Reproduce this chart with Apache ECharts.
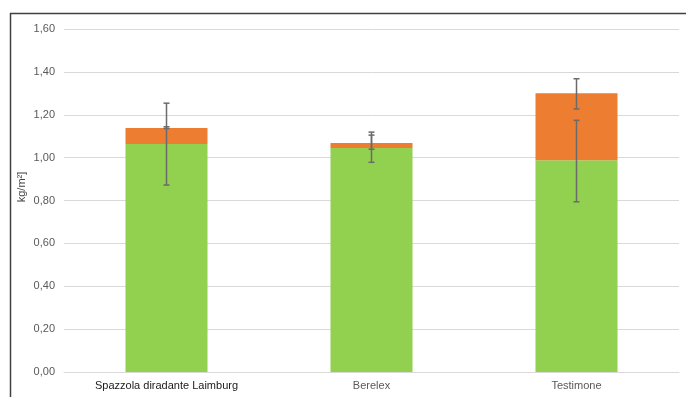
<!DOCTYPE html>
<html>
<head>
<meta charset="utf-8">
<script src="https://cdn.jsdelivr.net/npm/echarts@6/dist/echarts.min.js"></script>
<style>
  html, body { margin: 0; padding: 0; background: #fff; }
  #chart { width: 686px; height: 397px; }
</style>
</head>
<body>
<div id="chart"></div>
<script>
// Yield per treatment (kg/m²), stacked: base + additional portion
var categories = ['Spazzola diradante Laimburg', 'Berelex', 'Testimone'];
var greenValues = [1.063, 1.045, 0.988];
var orangeValues = [0.075, 0.023, 0.312];

// Error bar ranges (absolute values on the axis)
var greenErrLow = [0.872, 0.978, 0.794];
var greenErrHigh = [1.254, 1.105, 1.174];
var orangeErrLow = [1.136, 1.039, 1.227];
var orangeErrHigh = [1.144, 1.119, 1.368];

var yTicks = [0, 0.2, 0.4, 0.6, 0.8, 1.0, 1.2, 1.4, 1.6];

function errData(low, high) {
  return categories.map(function (c, i) { return [i, low[i], high[i]]; });
}

function renderError(params, api) {
  var x = api.value(0);
  var lo = api.coord([x, api.value(1)]);
  var hi = api.coord([x, api.value(2)]);
  var hw = 3;
  var style = { stroke: '#6b6b6b', lineWidth: 1.5 };
  return {
    type: 'group',
    children: [
      { type: 'line', shape: { x1: lo[0], y1: lo[1], x2: hi[0], y2: hi[1] }, style: style },
      { type: 'line', shape: { x1: lo[0] - hw, y1: lo[1], x2: lo[0] + hw, y2: lo[1] }, style: style },
      { type: 'line', shape: { x1: hi[0] - hw, y1: hi[1], x2: hi[0] + hw, y2: hi[1] }, style: style }
    ]
  };
}

var chart = echarts.init(document.getElementById('chart'));
chart.setOption({
  animation: false,
  textStyle: { fontFamily: '"Liberation Sans", Arial, sans-serif' },
  grid: { left: 64, right: 7, top: 29, bottom: 25 },
  graphic: [
    { type: 'line', shape: { x1: 10, y1: 13.5, x2: 686, y2: 13.5 }, style: { stroke: '#404040', lineWidth: 1.5 } },
    { type: 'line', shape: { x1: 10.5, y1: 13, x2: 10.5, y2: 397 }, style: { stroke: '#404040', lineWidth: 1.5 } },
    { type: 'text', x: 22, y: 187, rotation: Math.PI / 2,
      style: { text: 'kg/m²]', fill: '#404040', font: '11px "Liberation Sans", Arial, sans-serif', align: 'center', verticalAlign: 'middle' } }
  ],
  xAxis: {
    type: 'category',
    data: categories.map(function (c, i) {
      return { value: c, textStyle: { color: i === 0 ? '#1a1a1a' : '#595959' } };
    }),
    axisLine: { lineStyle: { color: '#d9d9d9', width: 1 } },
    axisTick: { show: false },
    axisLabel: { fontSize: 11, margin: 8 }
  },
  yAxis: {
    type: 'value',
    min: yTicks[0],
    max: yTicks[yTicks.length - 1],
    interval: 0.2,
    axisLine: { show: false },
    axisTick: { show: false },
    splitLine: { lineStyle: { color: '#d9d9d9', width: 1 } },
    axisLabel: {
      fontSize: 11, color: '#595959', margin: 9,
      formatter: function (v) { return v.toFixed(2).replace('.', ','); }
    }
  },
  series: [
    { type: 'bar', stack: 'tot', data: greenValues, barWidth: '40%', itemStyle: { color: '#92d050' } },
    { type: 'bar', stack: 'tot', data: orangeValues, barWidth: '40%', itemStyle: { color: '#ed7d31' } },
    { type: 'custom', data: errData(greenErrLow, greenErrHigh), renderItem: renderError, z: 10 },
    { type: 'custom', data: errData(orangeErrLow, orangeErrHigh), renderItem: renderError, z: 10 }
  ]
});
</script>
</body>
</html>
